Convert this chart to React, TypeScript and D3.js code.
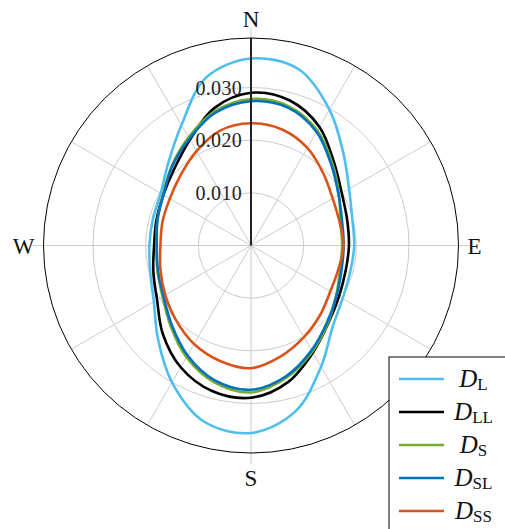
import React from 'react';
import * as d3 from 'd3';

const angles = [0, 15, 30, 45, 60, 75, 90, 105, 120, 135, 150, 165, 180, 195, 210, 225, 240, 255, 270, 285, 300, 315, 330, 345];

const dL = [0.0355, 0.0347, 0.0298, 0.0248, 0.0215, 0.0199, 0.0196, 0.0195, 0.0201, 0.0219, 0.0266, 0.0326, 0.0356, 0.0346, 0.03, 0.025, 0.0213, 0.0198, 0.0193, 0.0193, 0.0198, 0.0222, 0.0264, 0.033];
const dLL = [0.029, 0.0285, 0.026, 0.0223, 0.0199, 0.0189, 0.0186, 0.0186, 0.0193, 0.0208, 0.0235, 0.0269, 0.0289, 0.0286, 0.0267, 0.0237, 0.0206, 0.0192, 0.0184, 0.0186, 0.0192, 0.0206, 0.0232, 0.027];
const dS = [0.0278, 0.0274, 0.0252, 0.0219, 0.0193, 0.0176, 0.0173, 0.0175, 0.0187, 0.0207, 0.0233, 0.026, 0.0279, 0.0269, 0.0245, 0.0216, 0.0194, 0.0184, 0.0179, 0.0184, 0.0193, 0.0213, 0.0237, 0.0264];
const dSL = [0.0274, 0.0271, 0.0249, 0.0216, 0.0192, 0.0179, 0.0176, 0.0178, 0.0188, 0.0205, 0.023, 0.0257, 0.0274, 0.0265, 0.0241, 0.0213, 0.0192, 0.0183, 0.0179, 0.0184, 0.0192, 0.0212, 0.0234, 0.0261];
const dSS = [0.0232, 0.0228, 0.0214, 0.0194, 0.0179, 0.0174, 0.0176, 0.0172, 0.0174, 0.0186, 0.0201, 0.0218, 0.0233, 0.0227, 0.0216, 0.0201, 0.0188, 0.0178, 0.0172, 0.0174, 0.0178, 0.0189, 0.0207, 0.0226];

const series = [
  { key: 'L', sub: 'L', color: '#4DBEEE', values: dL },
  { key: 'LL', sub: 'LL', color: '#000000', values: dLL },
  { key: 'S', sub: 'S', color: '#77AC30', values: dS },
  { key: 'SL', sub: 'SL', color: '#0072BD', values: dSL },
  { key: 'SS', sub: 'SS', color: '#D95319', values: dSS },
];

const radialTicks = [0.01, 0.02, 0.03];
const tickLabels = ['0.010', '0.020', '0.030'];
const compass = [
  { a: 0, label: 'N' },
  { a: 90, label: 'E' },
  { a: 180, label: 'S' },
  { a: 270, label: 'W' },
];
const rMax = 0.0394;

const App: React.FC = () => {
  const width = 505;
  const height = 529;
  const cx = 251;
  const cy = 245.5;
  const R = 207.5;
  const r = d3.scaleLinear().domain([0, rMax]).range([0, R]);
  const rad = (deg: number) => (deg * Math.PI) / 180;

  const line = d3
    .lineRadial<number>()
    .angle((_, i) => rad(angles[i]))
    .radius(d => r(d))
    .curve(d3.curveCatmullRomClosed.alpha(0.5));

  const spokes = d3.range(0, 360, 30);
  const serif = "'Liberation Serif', 'DejaVu Serif', serif";

  const legendX = 389;
  const legendY = 357;
  const rowH = 33;

  return (
    <svg width={width} height={height} style={{ position: 'absolute', left: 0, top: 0, background: '#fff' }}>
      <rect width={width} height={height} fill="#fff" />
      <g transform={`translate(${cx},${cy})`}>
        {radialTicks.map(t => (
          <circle key={t} r={r(t)} fill="none" stroke="#cccccc" strokeWidth={1} />
        ))}
        {spokes.map(a => {
          const ext = a % 90 === 0 ? R + 11 : R;
          return (
            <line
              key={a}
              x1={0}
              y1={0}
              x2={ext * Math.sin(rad(a))}
              y2={-ext * Math.cos(rad(a))}
              stroke="#cccccc"
              strokeWidth={1}
            />
          );
        })}
        <circle r={R} fill="none" stroke="#000" strokeWidth={1} />
        {series.map(s => (
          <path key={s.key} d={line(s.values) || ''} fill="none" stroke={s.color} strokeWidth={2.6} />
        ))}
        <line x1={0} y1={0} x2={0} y2={-R} stroke="#222" strokeWidth={2} />
        {radialTicks.map((t, i) => (
          <text
            key={t}
            x={-9}
            y={-r(t)}
            dy="0.35em"
            textAnchor="end"
            fontFamily={serif}
            fontSize={20}
            letterSpacing={0.3}
            fill="#222"
          >
            {tickLabels[i]}
          </text>
        ))}
        {compass.map(c => {
          const anchor = c.a === 90 ? 'start' : c.a === 270 ? 'end' : 'middle';
          const xx = c.a === 90 ? R + 9 : c.a === 270 ? -R - 9 : 0;
          const yy = c.a === 0 ? -R - 11 : c.a === 180 ? R + 33 : 8;
          return (
            <text key={c.label} x={xx} y={yy} textAnchor={anchor} fontFamily={serif} fontSize={23} fill="#111">
              {c.label}
            </text>
          );
        })}
      </g>
      <g>
        <rect x={legendX} y={legendY} width={140} height={200} fill="#fff" stroke="#000" strokeWidth={1} />
        {series.map((s, i) => {
          const y = legendY + 22 + i * rowH;
          return (
            <g key={s.key}>
              <line x1={legendX + 10} x2={legendX + 55} y1={y} y2={y} stroke={s.color} strokeWidth={2.6} />
              <text x={473.5} y={y + 8} textAnchor="middle" fontFamily={serif} fill="#111">
                <tspan fontStyle="italic" fontSize={25}>D</tspan>
                <tspan fontSize={17} dy={3}>{s.sub}</tspan>
              </text>
            </g>
          );
        })}
      </g>
    </svg>
  );
};

export default App;
